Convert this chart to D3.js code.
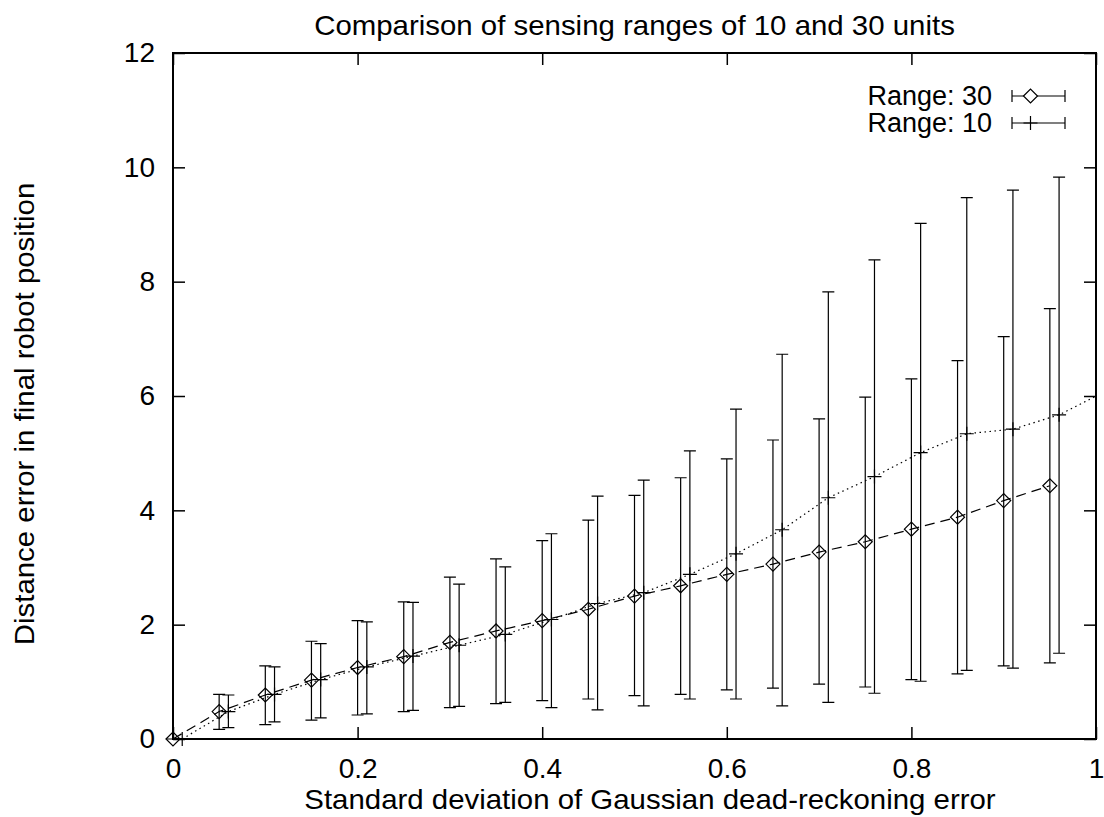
<!DOCTYPE html>
<html>
<head>
<meta charset="utf-8">
<script src="https://cdn.jsdelivr.net/npm/d3@7"></script>
<style>
  body { margin: 0; background: white; }
  svg { display: block; }
  text { font-family: "Liberation Sans", Arial, sans-serif; fill: black; }
</style>
</head>
<body>
<svg width="1104" height="817"></svg>
<script>
// values
const xs30 = [0, 0.05, 0.1, 0.15, 0.2, 0.25, 0.3, 0.35, 0.4, 0.45, 0.5, 0.55, 0.6, 0.65, 0.7, 0.75, 0.8, 0.85, 0.9, 0.95]
const r30Mean = [0, 0.48, 0.77, 1.03, 1.25, 1.44, 1.69, 1.89, 2.07, 2.27, 2.50, 2.68, 2.88, 3.06, 3.27, 3.45, 3.67, 3.88, 4.17, 4.43]
const r30High = [0, 0.78, 1.28, 1.71, 2.07, 2.40, 2.83, 3.15, 3.47, 3.83, 4.26, 4.57, 4.90, 5.23, 5.60, 5.98, 6.30, 6.62, 7.04, 7.53]
const r30Low = [0, 0.17, 0.25, 0.33, 0.42, 0.48, 0.55, 0.62, 0.67, 0.70, 0.76, 0.78, 0.86, 0.89, 0.96, 0.91, 1.04, 1.14, 1.28, 1.33]

const xs10 = [0.01, 0.06, 0.11, 0.16, 0.21, 0.26, 0.31, 0.36, 0.41, 0.46, 0.51, 0.56, 0.61, 0.66, 0.71, 0.76, 0.81, 0.86, 0.91, 0.96, 1.01]
const r10Mean = [0, 0.48, 0.78, 1.04, 1.26, 1.45, 1.64, 1.83, 2.09, 2.37, 2.56, 2.88, 3.24, 3.66, 4.22, 4.59, 5.01, 5.34, 5.42, 5.67, 6.08]
const r10High = [0, 0.77, 1.26, 1.67, 2.05, 2.39, 2.71, 3.01, 3.59, 4.25, 4.53, 5.04, 5.77, 6.73, 7.82, 8.38, 9.02, 9.47, 9.60, 9.83, null]
const r10Low = [0, 0.20, 0.30, 0.37, 0.44, 0.50, 0.57, 0.64, 0.55, 0.51, 0.58, 0.70, 0.70, 0.58, 0.64, 0.80, 1.01, 1.20, 1.24, 1.50, null]

const xTicks = [0, 0.2, 0.4, 0.6, 0.8, 1]
const yTicks = [0, 2, 4, 6, 8, 10, 12]

const title = "Comparison of sensing ranges of 10 and 30 units"
const xTitle = "Standard deviation of Gaussian dead-reckoning error"
const yTitle = "Distance error in final robot position"

function drawChart() {
    const svg = d3.select("svg")
    const left = 173, right = 1096, top = 53, bottom = 739
    const fontSize = 28
    const stretch = 1.05
    const tick = 12
    const cap = 6

    const x = d3.scaleLinear().domain([0, 1]).range([left, right])
    const y = d3.scaleLinear().domain([0, 12]).range([bottom, top])

    // the reference titles run a touch wider than Liberation Sans
    function widen(sel) {
        sel.each(function () {
            const w = this.getComputedTextLength()
            d3.select(this).attr("textLength", w * stretch).attr("lengthAdjust", "spacingAndGlyphs")
        })
    }

    svg.append("defs").append("clipPath").attr("id", "plotClip")
        .append("rect")
        .attr("x", left).attr("y", top)
        .attr("width", right - left).attr("height", bottom - top)

    // axes with inward ticks, mirrored on top and right
    const axisStyle = g => {
        g.select(".domain").remove()
        g.selectAll("line").attr("stroke", "black").attr("stroke-width", 1.5)
        g.selectAll("text").style("font-size", fontSize + "px")
    }
    svg.append("g")
        .attr("transform", `translate(0,${bottom})`)
        .call(d3.axisBottom(x).tickValues(xTicks).tickFormat(d3.format("")).tickSize(-tick).tickPadding(19))
        .call(axisStyle)
    svg.append("g")
        .attr("transform", `translate(0,${top})`)
        .call(d3.axisTop(x).tickValues(xTicks).tickFormat("").tickSize(-tick))
        .call(axisStyle)
    svg.append("g")
        .attr("transform", `translate(${left},0)`)
        .call(d3.axisLeft(y).tickValues(yTicks).tickFormat(d3.format("")).tickSize(-tick).tickPadding(18))
        .call(axisStyle)
    svg.append("g")
        .attr("transform", `translate(${right},0)`)
        .call(d3.axisRight(y).tickValues(yTicks).tickFormat("").tickSize(-tick))
        .call(axisStyle)

    svg.append("rect")
        .attr("x", left).attr("y", top)
        .attr("width", right - left).attr("height", bottom - top)
        .attr("fill", "none").attr("stroke", "black").attr("stroke-width", 2)

    const series = [
        { name: "Range: 30", xs: xs30, mean: r30Mean, hi: r30High, lo: r30Low, dash: "10,6", marker: "diamond" },
        { name: "Range: 10", xs: xs10, mean: r10Mean, hi: r10High, lo: r10Low, dash: "1.5,3.5", marker: "plus" }
    ]

    const diamond = (cx, cy, r) => `M${cx - r},${cy}L${cx},${cy - r}L${cx + r},${cy}L${cx},${cy + r}Z`
    const plus = (cx, cy, r) => `M${cx - r},${cy}H${cx + r}M${cx},${cy - r}V${cy + r}`

    series.forEach(s => {
        const pts = s.xs.map((v, i) => ({ x: v, m: s.mean[i], hi: s.hi[i], lo: s.lo[i] }))
        const line = d3.line().x(d => x(d.x)).y(d => y(d.m))

        svg.append("path")
            .datum(pts)
            .attr("clip-path", "url(#plotClip)")
            .attr("d", line)
            .attr("fill", "none")
            .attr("stroke", "black")
            .attr("stroke-width", 1.2)
            .attr("stroke-dasharray", s.dash)

        const inside = pts.filter(d => d.x <= 1 && d.hi !== null)
        const bars = svg.append("g").attr("stroke", "black").attr("stroke-width", 1.2).attr("fill", "none")
        bars.selectAll("path.bar")
            .data(inside)
            .enter()
            .append("path")
            .attr("class", "bar")
            .attr("d", d => {
                const cx = x(d.x), yh = y(d.hi), yl = y(d.lo)
                return `M${cx},${yl}V${yh}M${cx - cap},${yh}H${cx + cap}M${cx - cap},${yl}H${cx + cap}`
            })
        bars.selectAll("path.pt")
            .data(inside)
            .enter()
            .append("path")
            .attr("class", "pt")
            .attr("d", d => s.marker === "diamond" ? diamond(x(d.x), y(d.m), 7) : plus(x(d.x), y(d.m), 7))
    })

    // legend
    const legX = 992, legY0 = 96, legStep = 27
    const sx0 = 1012, sx1 = 1065
    series.forEach((s, i) => {
        const ly = legY0 + i * legStep
        svg.append("text")
            .attr("x", legX).attr("y", ly)
            .attr("dy", "0.35em")
            .attr("text-anchor", "end")
            .style("font-size", (fontSize - 1) + "px")
            .text(s.name)
        const mx = (sx0 + sx1) / 2 - 8
        svg.append("path")
            .attr("stroke", "black").attr("stroke-width", 1.2).attr("fill", "none")
            .attr("d", `M${sx0},${ly}H${sx1}M${sx0},${ly - cap}V${ly + cap}M${sx1},${ly - cap}V${ly + cap}`)
        svg.append("path")
            .attr("stroke", "black").attr("stroke-width", 1.2).attr("fill", "white")
            .attr("d", s.marker === "diamond" ? diamond(mx, ly, 7) : plus(mx, ly, 7))
    })

    svg.append("text")
        .attr("x", (left + right) / 2).attr("y", 35)
        .attr("text-anchor", "middle")
        .style("font-size", fontSize + "px")
        .text(title)
        .call(widen)

    svg.append("text")
        .attr("x", 650).attr("y", 809)
        .attr("text-anchor", "middle")
        .style("font-size", fontSize + "px")
        .text(xTitle)
        .call(widen)

    svg.append("text")
        .attr("transform", "translate(34,414) rotate(-90)")
        .attr("text-anchor", "middle")
        .style("font-size", fontSize + "px")
        .text(yTitle)
        .call(widen)
}
drawChart()
</script>
</body>
</html>
